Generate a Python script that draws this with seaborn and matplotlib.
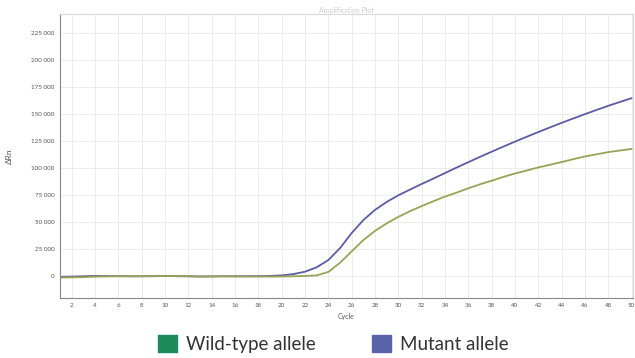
# curva de amplificação qPCR - alelo selvagem x mutante
import pandas as pd
import numpy as np
import matplotlib
matplotlib.use('Agg')
import matplotlib.pyplot as plt
import matplotlib.ticker as mticker
from matplotlib.patches import Patch
import seaborn as sns

# dados (ciclo x delta Rn)
ciclos = list(range(1, 51))
mutante = [-500, -300, 0, 300, 200, 100, 0, 0, 100, 200,
           100, 0, -200, -100, 0, 0, 100, 100, 300, 800,
           2000, 4200, 8300, 15000, 26000, 40000, 52000, 61500, 68800, 75000,
           80300, 85500, 90500, 95600, 100700, 105700, 110600, 115400, 120100, 124700,
           129200, 133600, 137900, 142100, 146200, 150200, 154100, 157900, 161500, 165000]
selvagem = [-1200, -1000, -800, -400, -200, 0, 0, 0, 100, 200,
            100, 0, -300, -200, 0, -200, -300, -300, -300, -200,
            0, 300, 800, 4000, 12500, 23000, 33500, 42000, 49000, 55000,
            60300, 65000, 69500, 73800, 77500, 81500, 85200, 88500, 92000, 95200,
            98000, 100800, 103300, 105800, 108500, 111000, 113000, 115000, 116500, 118000]
ticks_x = list(range(2, 51, 2))
ticks_y = list(range(0, 225001, 25000))

# tabela longa para o seaborn
df = pd.DataFrame({
    'ciclo': ciclos * 2,
    'drn': mutante + selvagem,
    'alelo': ['Mutant allele'] * 50 + ['Wild-type allele'] * 50,
})

sns.set_style('white')
plt.rcParams['font.family'] = ['Lato', 'DejaVu Sans']

cores_linha = {'Mutant allele': '#5b5ca3', 'Wild-type allele': '#95a456'}

fig = plt.figure(figsize=(6.35, 3.58), dpi=100)
ax = fig.add_axes([0.0945, 0.168, 0.902, 0.793])

sns.lineplot(data=df, x='ciclo', y='drn', hue='alelo', palette=cores_linha,
             linewidth=1.3, legend=False, ax=ax)

ax.set_xlim(1, 50.1)
ax.set_ylim(-20000, 243000)
ax.set_xticks(ticks_x)
ax.set_yticks(ticks_y)
ax.yaxis.set_major_formatter(mticker.FuncFormatter(lambda v, p: f'{int(v):,}'.replace(',', ' ')))
ax.tick_params(axis='both', labelsize=4.5, colors='#555555', length=2, pad=2)
ax.grid(True, color='#ececec', linewidth=0.7)

# bordas: esquerda e baixo mais escuras
for lado in ['top', 'right']:
    ax.spines[lado].set_color('#d8d8d8')
for lado in ['left', 'bottom']:
    ax.spines[lado].set_color('#888888')
for s in ax.spines.values():
    s.set_linewidth(0.8)

ax.set_xlabel('Cycle', fontsize=5, color='#555555', labelpad=3)
ax.set_ylabel('ΔRn', fontsize=6, color='#555555')
ax.yaxis.set_label_coords(-0.083, 0.5)
ax.set_title('Amplification Plot', fontsize=5, color='#cccccc', pad=1)

# legenda embaixo com quadrados
handles = [Patch(color='#1c8a5a', label='Wild-type allele'),
           Patch(color='#5863a8', label='Mutant allele')]
fig.legend(handles=handles, loc='center', bbox_to_anchor=(0.525, 0.04), ncol=2,
           frameon=False, fontsize=13.5, handlelength=1.0, handleheight=1.0,
           handletextpad=0.5, columnspacing=3.0, labelcolor='#333333')

fig.savefig('out.png', dpi=100)
